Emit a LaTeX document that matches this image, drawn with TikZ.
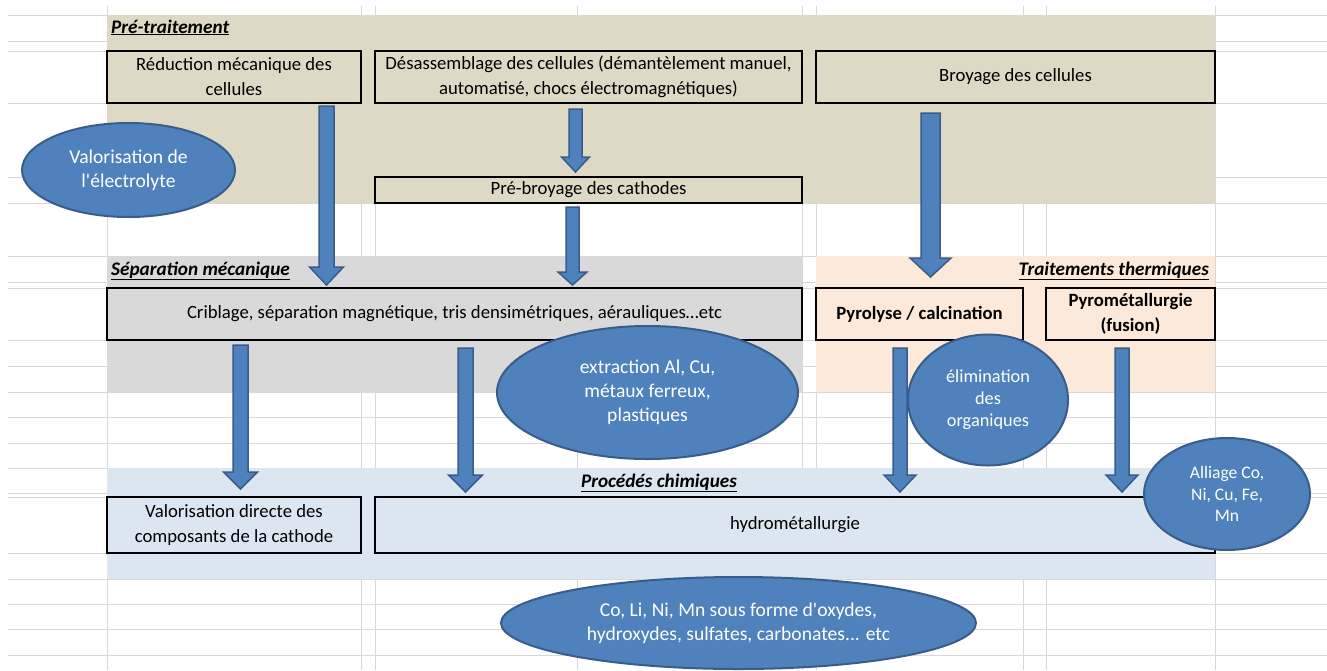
\documentclass[tikz,border=0pt]{standalone}
\usepackage{fontspec}
\setmainfont{Carlito}[Ligatures=TeXOff]
\usetikzlibrary{shapes.geometric,calc}
\definecolor{tanband}{HTML}{DDD9C4}
\definecolor{grayband}{HTML}{D9D9D9}
\definecolor{peachband}{HTML}{FDE9D9}
\definecolor{blueband}{HTML}{DCE6F1}
\definecolor{ellfill}{HTML}{4F81BD}
\definecolor{ellline}{HTML}{385D8A}
\definecolor{gridcol}{HTML}{D8D8D8}
\newcommand\boxfont{\fontsize{18.7}{25}\selectfont}
\newcommand\ellfont{\fontsize{19.6}{24}\selectfont}
\newcommand\barrow[5]{%
  \filldraw[barrowst] let \p1=(#1), \p2=(#2) in
   (\x1-#3pt,\y1) -- (\x1+#3pt,\y1) -- (\x1+#3pt,\y2+#5pt) -- (\x1+#4pt,\y2+#5pt)
   -- (\x1,\y2) -- (\x1-#4pt,\y2+#5pt) -- (\x1-#3pt,\y2+#5pt) -- cycle;}
\tikzset{
  gridline/.style={draw=gridcol, line width=1pt},
  procbox/.style={draw=black, line width=2pt, inner sep=0pt, outer sep=0pt, align=center, font=\boxfont, text=black},
  secttitle/.style={inner sep=0pt, font=\fontsize{19.2}{24}\selectfont\bfseries\itshape, text=black},
  bubble/.style={ellipse, draw=ellline, fill=ellfill, line width=2pt, inner sep=0pt, outer sep=0pt, align=center, text=white, font=\ellfont},
  barrowst/.style={fill=ellfill, draw=ellline, line width=1.5pt, line join=miter}
}
\begin{document}
\begin{tikzpicture}[x=1pt,y=-1pt]
\useasboundingbox (0,0) rectangle (1327,670);
\fill[white] (0,0) rectangle (1327,670);
% spreadsheet grid
\foreach \yy in {15,41,51,103,177,203,256,282,288,340,366,392,417,443,468,493,497,553,579,604,629,655}
  \draw[gridline] (8,\yy) -- (1327,\yy);
\foreach \xx in {107,361,375,577,802,816,1023,1046,1215}
  \draw[gridline] (\xx,6) -- (\xx,670);
% bands
\fill[tanband] (107,15) rectangle (1215,203);
\fill[grayband] (107,256) rectangle (802,392);
\fill[peachband] (816,256) rectangle (1215,392);
\fill[blueband] (107,468) rectangle (1215,579);
% section titles
\node[secttitle, anchor=base west] (tpre) at (111,33) {\underline{Pré-traitement}};
\node[secttitle, anchor=base west] (tsep) at (111,275) {\underline{Séparation mécanique}};
\node[secttitle, anchor=base east] (tthe) at (1209,275) {\underline{Traitements thermiques}};
\node[secttitle, anchor=base] (tchi) at (659,487) {\underline{Procédés chimiques}};
% boxes
\node[procbox, fill=tanband, minimum width=254, minimum height=52] (red) at (234,77) {Réduction mécanique des\\cellules};
\node[procbox, fill=tanband, minimum width=427, minimum height=52] (dis) at (588.5,77) {Désassemblage des cellules (démantèlement manuel,\\automatisé, chocs électromagnétiques)};
\node[procbox, fill=tanband, minimum width=399, minimum height=52] (broy) at (1015.5,77) {Broyage des cellules};
\node[procbox, fill=tanband, minimum width=427, minimum height=26] (preb) at (588.5,190) {Pré-broyage des cathodes};
\node[procbox, fill=grayband, minimum width=695, minimum height=52] (crib) at (454.5,314) {Criblage, séparation magnétique, tris densimétriques, aérauliques…etc};
\node[procbox, fill=peachband, minimum width=207, minimum height=52, font=\boxfont\bfseries] (pyro) at (919.5,314) {Pyrolyse / calcination};
\node[procbox, fill=peachband, minimum width=169, minimum height=52, font=\boxfont\bfseries] (pyromet) at (1130.5,314) {Pyrométallurgie\\(fusion)};
\node[procbox, fill=blueband, minimum width=254, minimum height=56] (valdir) at (234,525) {Valorisation directe des\\composants de la cathode};
\node[procbox, fill=blueband, minimum width=840, minimum height=56] (hydro) at (795,525) {hydrométallurgie};
% block arrows
\barrow{$(red.south)+(92.5,3)$}{$(crib.north)+(0,-3)$}{7.5}{17}{18}
\barrow{$(dis.south)+(-13,6)$}{$(preb.north)+(0,-5)$}{6.5}{14}{15}
\barrow{$(preb.south)+(-16,4)$}{$(crib.north)+(0,-3)$}{6.5}{14.5}{13}
\barrow{$(broy.south)+(-85,10)$}{$(pyro.north)+(0,-11)$}{9.5}{20.5}{19}
\barrow{$(crib.south)+(-214,5)$}{$(valdir.north)+(0,-8)$}{7.5}{17}{17}
\barrow{$(crib.south)+(11,8)$}{$(hydro.north)+(0,-5)$}{7.5}{17}{17}
\barrow{$(pyro.south)+(-19.5,8)$}{$(hydro.north)+(0,-5)$}{7}{16}{17}
\barrow{$(pyromet.south)+(-8.5,8)$}{$(hydro.north)+(0,-5)$}{7}{16}{17}
% bubbles
\node[bubble, minimum width=213, minimum height=94] (elec) at (128.5,170) {Valorisation de\\l'électrolyte};
\node[bubble, minimum width=301, minimum height=133] (extr) at (647.5,392.5) {extraction Al, Cu,\\métaux ferreux,\\plastiques};
\node[bubble, minimum width=160, minimum height=131, font=\fontsize{18.3}{22}\selectfont] (elim) at (988,400) {élimination\\des\\organiques};
\node[bubble, minimum width=166, minimum height=112, font=\fontsize{17.6}{21.5}\selectfont] (alli) at (1227,494) {Alliage Co,\\Ni, Cu, Fe,\\Mn};
\node[bubble, minimum width=475, minimum height=92] (coli) at (738.5,623) {Co, Li, Ni, Mn sous forme d'oxydes,\\hydroxydes, sulfates, carbonates... etc};
\end{tikzpicture}
\end{document}
